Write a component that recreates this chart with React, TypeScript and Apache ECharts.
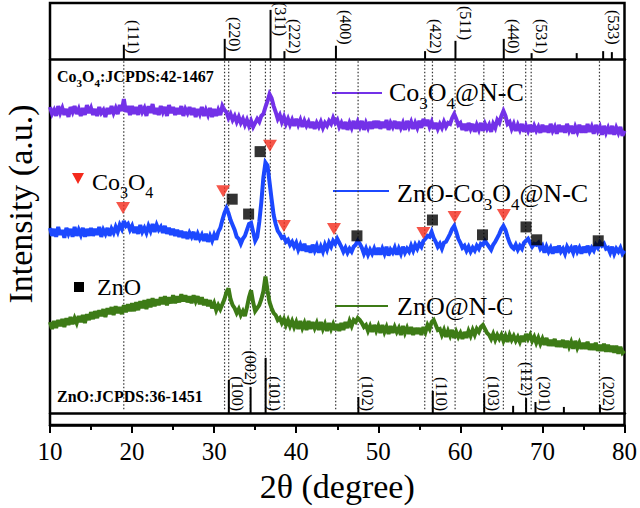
import React, { useEffect, useRef } from 'react';
import * as echarts from 'echarts';

// 2θ sampling grid (degrees)
const twoTheta: number[] = [];
for (let i = 0; i <= 280; i++) twoTheta.push(10 + i * 0.25);

// Intensities (a.u.), one value per 0.25°
const co3o4NC: number[] = [
  321,314,318,312,322,315,320,313,319,311,321,316,322,314,319,312,320,313,323,315,
  320,313,319,312,321,315,318,311,320,314,322,315,320,314,323,317,329,316,322,313,
  322,314,321,313,323,316,320,312,322,315,324,314,320,313,322,316,321,312,323,315,
  321,313,320,314,322,312,319,315,321,313,320,311,319,314,321,312,318,313,320,311,
  319,312,318,313,322,318,316,310,314,308,312,306,311,305,309,303,308,302,307,301,
  305,309,306,312,314,321,327,334,330,322,316,309,313,306,311,304,309,303,308,302,
  309,303,308,301,307,302,306,300,306,299,305,301,306,300,305,302,307,304,310,305,
  308,301,305,299,306,298,305,300,307,299,306,301,307,298,305,300,306,299,307,300,
  307,299,306,300,308,298,305,301,307,299,306,300,305,298,307,301,306,299,305,300,
  307,300,309,302,308,301,306,299,305,299,304,300,306,301,305,304,310,314,309,303,
  305,298,304,297,305,299,304,296,303,298,305,297,304,299,303,296,304,300,308,305,
  312,317,312,304,306,299,304,297,303,298,304,296,302,297,303,296,302,297,301,295,
  303,296,302,295,304,297,301,294,303,296,302,295,304,297,302,294,301,296,303,295,
  302,295,304,296,301,294,303,297,301,293,302,295,300,294,302,293,300,295,301,292,
  297
];

const znoCo3o4NC: number[] = [
  199,191,198,190,200,192,197,189,199,193,198,190,200,191,197,192,199,190,198,191,
  199,191,198,192,200,190,197,193,199,191,198,194,200,195,202,198,206,201,203,197,
  201,194,200,193,202,195,199,194,201,196,203,195,202,197,200,194,201,193,199,192,
  198,191,197,190,196,189,195,188,194,190,195,187,193,188,192,186,193,185,191,186,
  192,187,195,199,207,214,219,214,207,202,197,190,188,183,188,191,197,203,204,195,
  186,190,205,225,250,265,262,245,228,212,203,196,193,189,190,185,187,182,185,180,
  184,177,182,176,183,175,181,174,182,176,181,174,180,175,182,177,184,180,186,183,
  188,184,180,175,179,174,178,175,180,182,186,183,179,173,178,172,177,173,178,172,
  179,172,178,173,180,171,177,174,179,172,178,173,180,174,178,175,181,176,182,178,
  183,180,186,188,191,190,195,189,185,180,183,178,184,185,189,193,198,201,195,188,
  184,179,181,176,180,175,179,176,181,178,183,182,186,183,180,177,182,185,189,193,
  198,201,197,190,184,180,178,182,177,181,178,184,186,188,184,180,183,182,184,178,
  181,174,180,175,179,173,180,174,181,175,178,173,180,176,179,174,181,175,179,173,
  180,174,181,175,179,176,182,179,184,181,183,178,179,174,180,173,178,175,179,173,
  176
];

const znoNC: number[] = [
  104,97,105,98,106,100,107,99,108,101,109,102,108,103,110,104,111,103,112,106,
  114,107,115,108,116,110,117,109,118,112,119,111,120,113,119,112,121,114,122,115,
  123,115,124,116,125,118,126,117,127,119,128,120,127,121,129,122,130,121,129,123,
  131,123,130,124,132,125,131,124,130,123,131,125,130,122,129,121,127,120,126,118,
  123,116,121,117,122,127,134,138,127,121,118,113,117,111,115,110,119,129,136,124,
  115,118,121,127,135,150,136,124,118,113,111,106,108,103,107,101,106,100,105,99,
  104,97,105,98,103,96,105,97,104,98,103,96,104,97,102,95,103,97,102,96,
  102,95,103,96,104,98,105,100,106,104,108,106,103,99,101,95,100,94,101,95,
  100,93,101,94,99,92,100,93,99,94,98,91,100,93,98,92,99,91,98,92,
  98,91,99,94,101,97,104,106,101,96,97,91,96,89,95,90,96,88,94,89,
  93,87,94,88,95,90,96,91,97,94,99,101,97,93,91,87,92,86,91,87,
  91,85,90,84,91,86,90,85,89,84,90,84,92,87,91,85,89,83,88,82,
  87,81,88,80,86,80,87,79,85,79,86,78,85,79,84,77,85,78,83,77,
  83,77,84,76,82,76,83,75,81,75,82,74,81,74,80,73,80,72,79,73,
  75
];

// Co3O4 reference JCPDS 42-1467
const coPeaks = [18.99, 31.27, 36.85, 38.54, 44.81, 55.66, 59.36, 65.24, 68.63, 74.12, 77.34, 78.4];
const coIntensity = [29, 41, 100, 16, 27, 16, 37, 41, 12, 12, 16, 14];
const coHkl = ['(111)', '(220)', '(311)', '(222)', '(400)', '(422)', '(511)', '(440)', '(531)', '', '(533)', ''];

// ZnO reference JCPDS 36-1451
const znoPeaks = [31.77, 34.42, 36.25, 47.54, 56.6, 62.86, 66.38, 67.96, 69.1, 72.56, 76.95];
const znoIntensity = [60, 47, 100, 29, 40, 36, 13, 27, 20, 11, 15];
const znoHkl = ['(100)', '(002)', '(101)', '(102)', '(110)', '(103)', '', '(112)', '(201)', '', '(202)'];

// Guide (dotted) lines
const guideLines = [18.99, 31.27, 31.77, 34.42, 36.25, 36.85, 38.54, 44.81, 47.54, 55.66, 56.6, 59.36, 62.86, 65.24, 67.96, 68.63, 76.95];
const guideFrom = 16;
const guideTo = 370;

// Phase markers
const co3o4Markers: [number, number][] = [
  [18.9, 219], [31.1, 236], [36.8, 282], [38.5, 201], [44.6, 198], [55.5, 194], [59.3, 210], [65.3, 212]
];
const znoMarkers: [number, number][] = [
  [32.2, 228], [34.2, 213], [35.6, 276], [47.4, 191], [56.6, 207], [62.7, 192], [68.0, 200], [69.3, 187], [76.8, 186]
];

const xTicks = [10, 20, 30, 40, 50, 60, 70, 80];

// label styling (pixel placement)
const coLabelTop = [20, 17, 2, 19, 10, 19, 6, 19, 19, 0, 10, 0];
const znoLabelAbove = [false, true, false, false, false, false, false, true, false, false, false];

const FONT = '"Liberation Serif", "Times New Roman", serif';
const PURPLE = '#7331e8';
const BLUE = '#1c48ff';
const GREEN = '#3d7b16';
const RED = '#f42a1c';
const TRACE_W = 4;

function zip(ys: number[]) {
  return ys.map((y, i) => [twoTheta[i], y]);
}

function subText(parts: string, size: number, sub: number, weight: string, lh: number) {
  return {
    text: parts,
    rich: {
      m: { fontSize: size, fontFamily: FONT, fontWeight: weight, fill: '#000', lineHeight: lh },
      s: { fontSize: sub, fontFamily: FONT, fontWeight: weight, fill: '#000', lineHeight: sub, verticalAlign: 'bottom' },
    },
  };
}

export default function App() {
  const ref = useRef<HTMLDivElement>(null);
  useEffect(() => {
    if (!ref.current) return;
    const chart = echarts.init(ref.current, null, { renderer: 'svg' });
    const option: any = {
      animation: false,
      backgroundColor: '#fff',
      grid: [
        { left: 50, right: 15, top: 3, bottom: 79, show: true, borderColor: '#000', borderWidth: 2.5, backgroundColor: 'transparent' },
        { left: 50, right: 15, top: 3, height: 56 },
        { left: 50, right: 15, bottom: 95, height: 70 },
      ],
      xAxis: [
        {
          gridIndex: 0, type: 'value', min: 10, max: 80, interval: 10,
          axisLine: { show: true, lineStyle: { color: '#000', width: 2.5 } },
          axisTick: { show: true, length: 8, lineStyle: { color: '#000', width: 2 } },
          minorTick: { show: true, splitNumber: 2, length: 5, lineStyle: { color: '#000', width: 2 } },
          splitLine: { show: false },
          axisLabel: { color: '#000', fontFamily: FONT, fontSize: 25, margin: 14,
            formatter: (v: number) => (xTicks.includes(v) ? String(v) : '') },
          name: '2θ (degree)', nameLocation: 'middle', nameGap: 40,
          nameTextStyle: { color: '#000', fontFamily: FONT, fontSize: 34 },
        },
        {
          gridIndex: 1, type: 'value', min: 10, max: 80,
          axisLine: { show: true, lineStyle: { color: '#000', width: 2.5 } },
          axisTick: { show: false }, axisLabel: { show: false }, splitLine: { show: false },
        },
        {
          gridIndex: 2, type: 'value', min: 10, max: 80,
          axisLine: { show: true, lineStyle: { color: '#000', width: 2.5 } },
          axisTick: { show: false }, axisLabel: { show: false }, splitLine: { show: false },
        },
      ],
      yAxis: [
        { gridIndex: 0, type: 'value', min: 0, max: 426, show: false },
        { gridIndex: 1, type: 'value', min: 0, max: 114, show: false },
        { gridIndex: 2, type: 'value', min: 0, max: 127, show: false },
      ],
      series: [
        {
          type: 'custom', xAxisIndex: 0, yAxisIndex: 0, z: 1, silent: true,
          data: guideLines.map((x) => [x, guideFrom]),
          encode: { x: 0, y: 1 },
          renderItem: (_p: any, api: any) => {
            const x = api.value(0);
            const a = api.coord([x, guideFrom]);
            const b = api.coord([x, guideTo]);
            return {
              type: 'line',
              shape: { x1: a[0], y1: a[1], x2: b[0], y2: b[1] },
              style: { stroke: '#333', lineWidth: 1.2, lineDash: [1.5, 2] },
            };
          },
        },
        {
          type: 'line', name: 'Co3O4@N-C', xAxisIndex: 0, yAxisIndex: 0, z: 2, silent: true,
          data: zip(co3o4NC), showSymbol: false, symbol: 'none',
          lineStyle: { color: PURPLE, width: TRACE_W, join: 'miter', miterLimit: 3 },
        },
        {
          type: 'line', name: 'ZnO-Co3O4@N-C', xAxisIndex: 0, yAxisIndex: 0, z: 2, silent: true,
          data: zip(znoCo3o4NC), showSymbol: false, symbol: 'none',
          lineStyle: { color: BLUE, width: TRACE_W, join: 'miter', miterLimit: 3 },
        },
        {
          type: 'line', name: 'ZnO@N-C', xAxisIndex: 0, yAxisIndex: 0, z: 2, silent: true,
          data: zip(znoNC), showSymbol: false, symbol: 'none',
          lineStyle: { color: GREEN, width: TRACE_W, join: 'miter', miterLimit: 3 },
        },
        {
          type: 'scatter', xAxisIndex: 0, yAxisIndex: 0, z: 4, silent: true,
          data: co3o4Markers, symbol: 'triangle', symbolRotate: 180, symbolSize: [14, 12],
          itemStyle: { color: RED },
        },
        {
          type: 'scatter', xAxisIndex: 0, yAxisIndex: 0, z: 4, silent: true,
          data: znoMarkers, symbol: 'rect', symbolSize: [11, 11],
          itemStyle: { color: '#000' },
        },
        {
          type: 'custom', xAxisIndex: 1, yAxisIndex: 1, z: 3, silent: true,
          data: coPeaks.map((x, i) => [x, coIntensity[i], i]),
          encode: { x: 0, y: 1 },
          renderItem: (_p: any, api: any) => {
            const x = api.value(0), h = api.value(1), idx = api.value(2);
            const base = api.coord([x, 0]);
            const top = api.coord([x, h]);
            const children: any[] = [
              { type: 'line', shape: { x1: base[0], y1: base[1], x2: top[0], y2: top[1] }, style: { stroke: '#000', lineWidth: 2 } },
            ];
            const lbl = coHkl[idx];
            if (lbl) {
              children.push({
                type: 'text', x: base[0] + 10, y: coLabelTop[idx], rotation: -Math.PI / 2,
                style: { text: lbl, fontSize: 16, fontFamily: FONT, fill: '#000', align: 'left', verticalAlign: 'middle' },
              });
            }
            return { type: 'group', children };
          },
        },
        {
          type: 'custom', xAxisIndex: 2, yAxisIndex: 2, z: 3, silent: true,
          data: znoPeaks.map((x, i) => [x, znoIntensity[i], i]),
          encode: { x: 0, y: 1 },
          renderItem: (_p: any, api: any) => {
            const x = api.value(0), h = api.value(1), idx = api.value(2);
            const base = api.coord([x, 0]);
            const top = api.coord([x, h]);
            const children: any[] = [
              { type: 'line', shape: { x1: base[0], y1: base[1], x2: top[0], y2: top[1] }, style: { stroke: '#000', lineWidth: 2 } },
            ];
            const lbl = znoHkl[idx];
            if (lbl) {
              const above = znoLabelAbove[idx];
              children.push({
                type: 'text',
                x: above ? top[0] : base[0] + 9,
                y: above ? top[1] - 2 : base[1] - 2,
                rotation: -Math.PI / 2,
                style: { text: lbl, fontSize: 16, fontFamily: FONT, fill: '#000', align: 'right', verticalAlign: 'middle' },
              });
            }
            return { type: 'group', children };
          },
        },
      ],
      graphic: [
        {
          type: 'text', x: 20, y: 204, rotation: Math.PI / 2,
          style: { text: 'Intensity (a.u.)', fontSize: 34, fontFamily: FONT, fill: '#000', align: 'center', verticalAlign: 'middle' },
        },
        {
          type: 'text', x: 57, y: 76,
          style: { ...subText('{m|Co}{s|3}{m|O}{s|4}{m|:JCPDS:42-1467}', 16, 11, 'bold', 24), align: 'left', verticalAlign: 'middle' },
        },
        {
          type: 'text', x: 57, y: 396,
          style: { ...subText('{m|ZnO:JCPDS:36-1451}', 16, 11, 'bold', 24), align: 'left', verticalAlign: 'middle' },
        },
        { type: 'line', shape: { x1: 332, y1: 93, x2: 382, y2: 93 }, style: { stroke: PURPLE, lineWidth: 2 } },
        {
          type: 'text', x: 389, y: 92,
          style: { ...subText('{m|Co}{s|3}{m|O}{s|4}{m|@N-C}', 26, 17, 'normal', 40), align: 'left', verticalAlign: 'middle' },
        },
        { type: 'line', shape: { x1: 333, y1: 191, x2: 389, y2: 191 }, style: { stroke: BLUE, lineWidth: 2 } },
        {
          type: 'text', x: 397, y: 193,
          style: { ...subText('{m|ZnO-Co}{s|3}{m|O}{s|4}{m|@N-C}', 26, 17, 'normal', 40), align: 'left', verticalAlign: 'middle' },
        },
        { type: 'line', shape: { x1: 335, y1: 306, x2: 388, y2: 306 }, style: { stroke: GREEN, lineWidth: 2 } },
        {
          type: 'text', x: 397, y: 306,
          style: { ...subText('{m|ZnO@N-C}', 26, 17, 'normal', 40), align: 'left', verticalAlign: 'middle' },
        },
        {
          type: 'polygon', shape: { points: [[72, 173], [84, 173], [78, 184]] }, style: { fill: RED },
        },
        {
          type: 'text', x: 92, y: 182,
          style: { ...subText('{m|Co}{s|3}{m|O}{s|4}', 24, 16, 'normal', 36), align: 'left', verticalAlign: 'middle' },
        },
        { type: 'rect', shape: { x: 74, y: 282, width: 10, height: 10 }, style: { fill: '#000' } },
        {
          type: 'text', x: 97, y: 287,
          style: { ...subText('{m|ZnO}', 24, 16, 'normal', 36), align: 'left', verticalAlign: 'middle' },
        },
      ],
    };
    chart.setOption(option);
    return () => chart.dispose();
  }, []);
  return <div ref={ref} style={{ position: 'fixed', left: 0, top: 0, width: 640, height: 508 }} />;
}
